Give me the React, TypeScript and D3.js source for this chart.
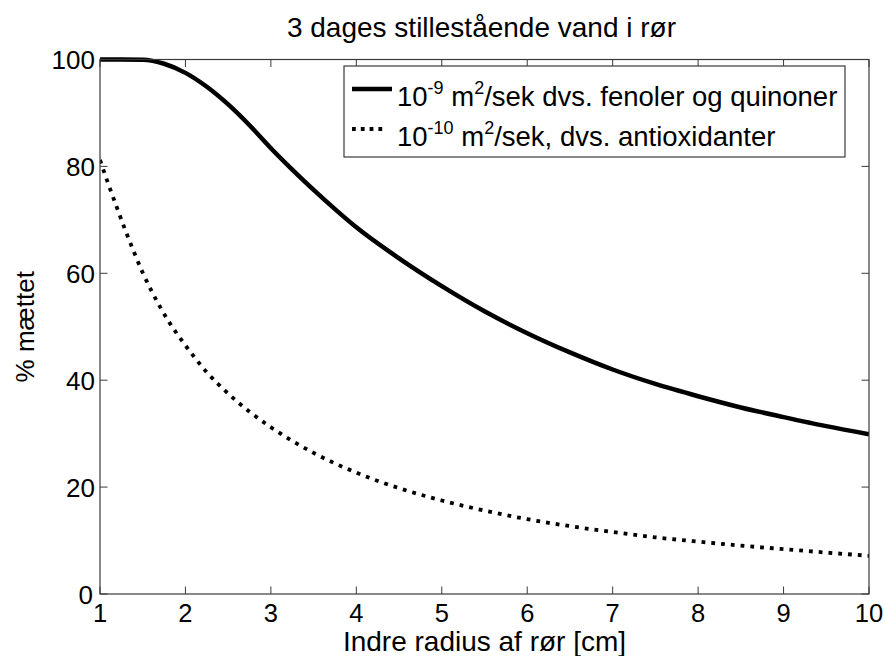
import React from "react";
import * as d3 from "d3";

const titleText = "3 dages stillestående vand i rør";
const xLabelText = "Indre radius af rør [cm]";
const yLabelText = "% mættet";

const xTicks = [1, 2, 3, 4, 5, 6, 7, 8, 9, 10];
const yTicks = [0, 20, 40, 60, 80, 100];

const solidX = [1, 1.25, 1.5, 1.75, 2, 2.25, 2.5, 2.75, 3, 3.25, 3.5, 3.75, 4, 4.5, 5, 5.5, 6, 6.5, 7, 7.5, 8, 8.5, 9, 9.5, 10];
const solidY = [100, 100, 99.95, 99.2, 97.5, 94.9, 91.6, 87.7, 83.4, 79.4, 75.6, 72.0, 68.6, 62.8, 57.6, 52.9, 48.8, 45.2, 42.0, 39.3, 37.0, 34.9, 33.1, 31.4, 29.9];

const dottedX = [1, 1.1, 1.2, 1.3, 1.4, 1.5, 1.6, 1.7, 1.8, 1.9, 2, 2.25, 2.5, 2.75, 3, 3.5, 4, 4.5, 5, 5.5, 6, 6.5, 7, 7.5, 8, 8.5, 9, 9.5, 10];
const dottedY = [81.2, 76.6, 72.2, 67.9, 63.9, 60.1, 56.8, 53.8, 51.1, 48.7, 46.5, 41.5, 37.5, 34.1, 31.2, 26.4, 22.7, 19.8, 17.5, 15.6, 14.0, 12.7, 11.6, 10.6, 9.8, 9.05, 8.4, 7.75, 7.15];

const W = 885;
const H = 656;
const left = 100;
const right = 869;
const top = 59.5;
const bottom = 594;
const FONT = "'Liberation Sans', Arial, sans-serif";

export default function App() {
  const x = d3.scaleLinear().domain([1, 10]).range([left, right]);
  const y = d3.scaleLinear().domain([0, 100]).range([bottom, top]);
  const line = d3
    .line<[number, number]>()
    .x((d) => x(d[0]))
    .y((d) => y(d[1]))
    .curve(d3.curveMonotoneX);
  const solidPts = solidX.map((v, i) => [v, solidY[i]] as [number, number]);
  const dottedPts = dottedX.map((v, i) => [v, dottedY[i]] as [number, number]);
  const axisColor = "#3a3a3a";
  const tickLen = 7.5;

  return (
    <svg
      width={W}
      height={H}
      style={{ position: "absolute", left: 0, top: 0, background: "#fff" }}
      fontFamily={FONT}
    >
      <rect x={0} y={0} width={W} height={H} fill="#fff" />
      <defs>
        <clipPath id="plotclip">
          <rect x={left} y={top - 3} width={right - left} height={bottom - top + 3} />
        </clipPath>
      </defs>
      <text x={(left + right) / 2 - 3} y={37} textAnchor="middle" fontSize={28} fill="#000">
        {titleText}
      </text>

      {/* ticks */}
      {xTicks.map((t) => (
        <g key={"xt" + t}>
          <line x1={x(t)} x2={x(t)} y1={bottom} y2={bottom - tickLen} stroke={axisColor} strokeWidth={1} />
          <line x1={x(t)} x2={x(t)} y1={top} y2={top + tickLen} stroke={axisColor} strokeWidth={1} />
          <text x={x(t)} y={622} textAnchor="middle" fontSize={25.5} fill="#000">
            {t}
          </text>
        </g>
      ))}
      {yTicks.map((t) => (
        <g key={"yt" + t}>
          <line x1={left} x2={left + tickLen} y1={y(t)} y2={y(t)} stroke={axisColor} strokeWidth={1} />
          <line x1={right} x2={right - tickLen} y1={y(t)} y2={y(t)} stroke={axisColor} strokeWidth={1} />
          <text x={t === 0 ? 93 : 95} y={y(t) + 9.5} textAnchor="end" fontSize={26} fill="#000">
            {t}
          </text>
        </g>
      ))}

      {/* data */}
      <g clipPath="url(#plotclip)">
        <path d={line(solidPts) || ""} fill="none" stroke="#000" strokeWidth={4.5} strokeLinejoin="round" />
        <path d={line(dottedPts) || ""} fill="none" stroke="#000" strokeWidth={3.8} strokeDasharray="3.8,6" />
      </g>

      {/* axes box */}
      <rect x={left} y={top} width={right - left} height={bottom - top} fill="none" stroke={axisColor} strokeWidth={1.2} />

      {/* legend */}
      <rect x={344} y={66} width={501} height={91} fill="#fff" stroke={axisColor} strokeWidth={1.2} />
      <line x1={352} x2={392} y1={89} y2={89} stroke="#000" strokeWidth={4.5} />
      <text x={397} y={106} fontSize={27.5} fill="#000">
        10<tspan dy={-12} fontSize={18}>-9</tspan>
        <tspan dy={12}> m</tspan>
        <tspan dy={-12} fontSize={18}>2</tspan>
        <tspan dy={12}>/sek dvs. fenoler og quinoner</tspan>
      </text>
      <line x1={352} x2={384} y1={129} y2={129} stroke="#000" strokeWidth={3.8} strokeDasharray="3.8,5" />
      <text x={397} y={146} fontSize={27.5} fill="#000">
        10<tspan dy={-12} fontSize={18}>-10</tspan>
        <tspan dy={12}> m</tspan>
        <tspan dy={-12} fontSize={18}>2</tspan>
        <tspan dy={12}>/sek, dvs. antioxidanter</tspan>
      </text>

      {/* axis labels */}
      <text x={(left + right) / 2} y={651} textAnchor="middle" fontSize={28} fill="#000">
        {xLabelText}
      </text>
      <text
        transform={`translate(34, ${(top + bottom) / 2}) rotate(-90)`}
        textAnchor="middle"
        fontSize={26}
        fill="#000"
      >
        {yLabelText}
      </text>
    </svg>
  );
}
